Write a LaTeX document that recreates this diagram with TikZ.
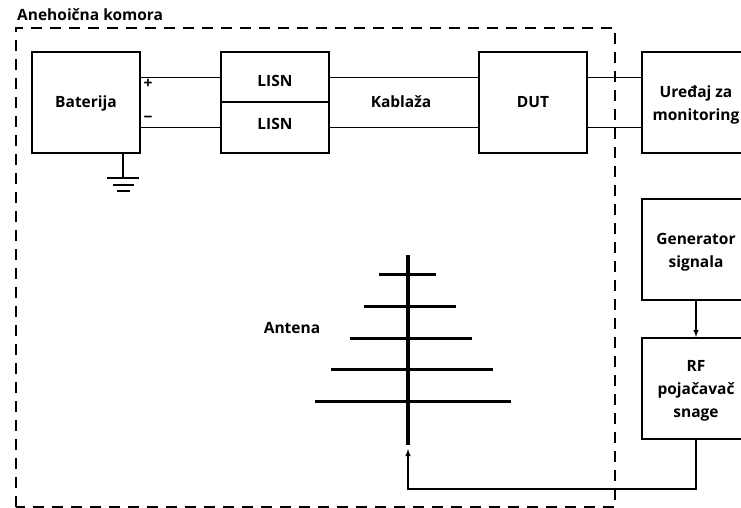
\documentclass[tikz,border=0pt]{standalone}
\usepackage{fontspec}
\setmainfont{Open Sans}
\usetikzlibrary{calc,arrows}

\tikzset{
	natpis/.style={font=\bfseries\fontsize{15.5}{22.8}\selectfont,inner sep=0pt,align=center},
	blok/.style={draw,line width=2pt,minimum width=108pt,minimum height=101pt,inner sep=0pt},
	tekst/.style={label={[natpis,yshift=-2.5pt]center:{#1}}},
	vod/.style={line width=1.4pt},
	komora/.style={line width=2pt,dash pattern=on 11pt off 8pt},
	element/.style={line width=3pt}
}

\begin{document}
\begin{tikzpicture}[>=latex,x=1pt,y=-1pt]
	\useasboundingbox (0,0) rectangle (741,508);

	\coordinate (A) at (16,28);
	\coordinate (B) at (16,507);
	\coordinate (C) at (615,28);
	\coordinate (D) at (615,507);
	\draw[komora] (B)--(A)--(C)--(D)--cycle;
	\node[natpis,anchor=base west] (komora) at (17,21) {Anehoična komora};

	\node[blok,label={[natpis,yshift=-1pt]center:Baterija}] (bat) at (86,102.5) {};
	\node[blok,minimum height=50.5pt,label={[natpis,yshift=-4pt]center:LISN}] (lisn1) at (275,77.25) {};
	\node[blok,minimum height=50.5pt,label={[natpis,yshift=3.5pt]center:LISN}] (lisn2) at (275,127.75) {};
	\node[blok,label={[natpis]center:DUT}] (dut) at (533,102.5) {};
	\node[blok,tekst={Uređaj za\\monitoring}] (mon) at (696,102.5) {};
	\node[blok,tekst={Generator\\signala}] (gen) at (696,249.5) {};
	\node[blok,tekst={RF\\pojačavač\\snage}] (rf) at (696,388.5) {};

	\node[natpis] (kablaza) at (401,102) {Kablaža};
	\node[natpis] (antena) at (292,328) {Antena};
	\node[natpis] (plus) at (148,84) {+};
	\node[natpis] (minus) at (148,119) {\textminus};

	% vodovi
	\draw[vod] (bat.east |- lisn1.west) -- (lisn1.west);
	\draw[vod] (bat.east |- lisn2.west) -- (lisn2.west);
	\draw[vod] (lisn1.east) -- (lisn1.east -| dut.west);
	\draw[vod] (lisn2.east) -- (lisn2.east -| dut.west);
	\draw[vod] (lisn1.east -| dut.east) -- (lisn1.east -| mon.west);
	\draw[vod] (lisn2.east -| dut.east) -- (lisn2.east -| mon.west);

	% uzemljenje
	\coordinate (G) at (123,178);
	\draw[vod] (G |- bat.south) -- (G);
	\draw[line width=1.8pt] ($(G)+(-16,0)$) -- ($(G)+(16,0)$);
	\draw[line width=1.8pt] ($(G)+(-10,7)$) -- ($(G)+(11,7)$);
	\draw[line width=1.8pt] ($(G)+(-6,13)$) -- ($(G)+(7,13)$);

	% antena
	\coordinate (M) at (408,255);
	\coordinate (N) at (408,445);
	\draw[line width=4.5pt] (M) -- (N);
	\draw[element] (379,274) -- (436,274);
	\draw[element] (364,306) -- (456,306);
	\draw[element] (350,338) -- (472,338);
	\draw[element] (331,369) -- (493,369);
	\draw[element] (315,401) -- (511,401);

	\draw[->,vod] (gen.south) -- (rf.north);
	\coordinate (S) at (408,449);
	\draw[->,vod] (rf.south) -- (696,489) -- (408,489) -- (S);
\end{tikzpicture}
\end{document}
